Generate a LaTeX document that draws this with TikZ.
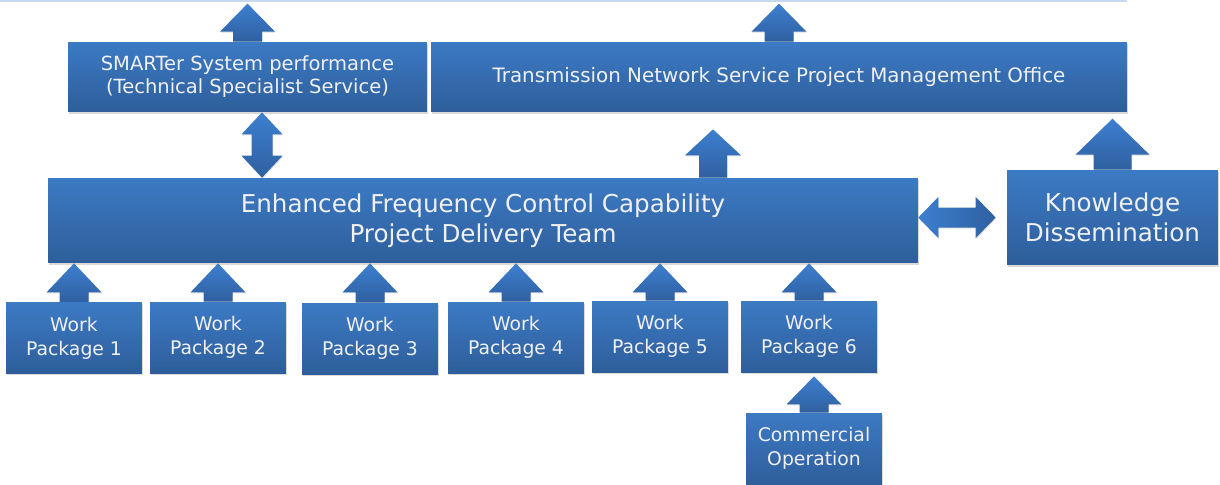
\documentclass[tikz,border=0pt]{standalone}
\usepackage{fontspec}
\setmainfont{DejaVu Sans}
\usetikzlibrary{positioning, calc, shadows, backgrounds}

\definecolor{boxtop}{HTML}{3C7AC4}
\definecolor{boxbot}{HTML}{2E5E9B}
\definecolor{arrtip}{HTML}{3D7FD0}
\definecolor{arrbase}{HTML}{2F60A0}
\definecolor{toprule}{HTML}{C6D9F0}

% block arrows: base, tip, shaft half width, head half width, head length
\newcommand{\uparr}[5]{%
	\path[blockarrow] ($(#1)+(-#3,0)$) -- ($(#2)+(-#3,#5)$) -- ($(#2)+(-#4,#5)$) -- (#2)
		-- ($(#2)+(#4,#5)$) -- ($(#2)+(#3,#5)$) -- ($(#1)+(#3,0)$) -- cycle;}
\newcommand{\updownarr}[5]{%
	\path[blockarrow] (#2) -- ($(#2)+(#4,#5)$) -- ($(#2)+(#3,#5)$) -- ($(#1)+(#3,-#5)$)
		-- ($(#1)+(#4,-#5)$) -- (#1) -- ($(#1)+(-#4,-#5)$) -- ($(#1)+(-#3,-#5)$)
		-- ($(#2)+(-#3,#5)$) -- ($(#2)+(-#4,#5)$) -- cycle;}
\newcommand{\leftrightarr}[5]{%
	\path[blockarrow, left color=arrtip, right color=arrbase] (#1) -- ($(#1)+(#5,-#4)$) -- ($(#1)+(#5,-#3)$)
		-- ($(#2)+(-#5,-#3)$) -- ($(#2)+(-#5,-#4)$) -- (#2) -- ($(#2)+(-#5,#4)$)
		-- ($(#2)+(-#5,#3)$) -- ($(#1)+(#5,#3)$) -- ($(#1)+(#5,#4)$) -- cycle;}

\begin{document}
\begin{tikzpicture}[x=0.02cm, y=-0.02cm,
		bluebox/.style={
			rectangle,
			top color=boxtop,
			bottom color=boxbot,
			text=white!94!black,
			align=center,
			drop shadow={shadow xshift=0.4pt, shadow yshift=-0.9pt, opacity=0.3},
		},
		wpbox/.style={bluebox, minimum width=2.72cm, minimum height=1.42cm,
			font=\fontsize{10.7}{13.6}\selectfont},
		blockarrow/.style={top color=arrtip, bottom color=arrbase,
			drop shadow={shadow xshift=0.3pt, shadow yshift=-0.6pt, opacity=0.25}},
	]
	\useasboundingbox (0,0) rectangle (1220,484);
	\draw[toprule, line width=0.9pt] (0,0.8) -- (1127,0.8);

	\node[bluebox, minimum width=7.18cm, minimum height=1.4cm, font=\fontsize{11.1}{13}\selectfont] (smart) at (247.5,77) {SMARTer System performance\\(Technical Specialist Service)};
	\node[bluebox, minimum width=13.92cm, minimum height=1.4cm, font=\fontsize{11.3}{13}\selectfont] (tns) at (779,77) {Transmission Network Service Project Management Office};
	\node[bluebox, minimum width=17.4cm, minimum height=1.7cm, font=\fontsize{14}{17}\selectfont] (efcc) at (483,220.5) {Enhanced Frequency Control Capability\\Project Delivery Team};
	\node[bluebox, minimum width=4.22cm, minimum height=1.9cm, font=\fontsize{14}{17}\selectfont] (know) at (1112.5,217.5) {Knowledge\\Dissemination};

	\node[wpbox] (wp1) at (74,338) {Work\\Package 1};
	\node[wpbox] (wp2) at (218,337.5) {Work\\Package 2};
	\node[wpbox] (wp3) at (370,338.5) {Work\\Package 3};
	\node[wpbox] (wp4) at (516,337.5) {Work\\Package 4};
	\node[wpbox] (wp5) at (660,336.5) {Work\\Package 5};
	\node[wpbox] (wp6) at (809,336.5) {Work\\Package 6};
	\node[wpbox] (comm) at (814,448.5) {Commercial\\Operation};

	\coordinate (smartout) at ($(smart.north)+(0,-38)$);
	\coordinate (tnsout) at ($(tns.north)+(0,-38)$);
	\coordinate (efccup) at (efcc.north -| 713,0);
	\coordinate (efccout) at ($(tns.south -| efccup)+(0,17)$);
	\coordinate (knowout) at ($(know.north)+(0,-51)$);
	\coordinate (kleft) at ($(know.west)+(-11,0)$);

	\begin{scope}[on background layer]
		\uparr{smart.north}{smartout}{14.5}{27.5}{28}
		\uparr{tns.north}{tnsout}{14.5}{27.5}{28}
		\uparr{efccup}{efccout}{14}{28}{26}
		\uparr{know.north}{knowout}{19}{37}{36}
		\updownarr{efcc.north -| 262,0}{smart.south -| 262,0}{10.5}{20.5}{22}
		\leftrightarr{efcc.east |- kleft}{kleft}{10}{20.5}{20}
		\foreach \n in {1,...,6} {
			\coordinate (t\n) at (wp\n.north |- efcc.south);
			\uparr{wp\n.north}{t\n}{14.5}{27.5}{29}
		}
		\coordinate (commout) at ($(comm.north |- wp6.south)+(0,4)$);
		\uparr{comm.north}{commout}{14.5}{27.5}{28}
	\end{scope}
\end{tikzpicture}
\end{document}
